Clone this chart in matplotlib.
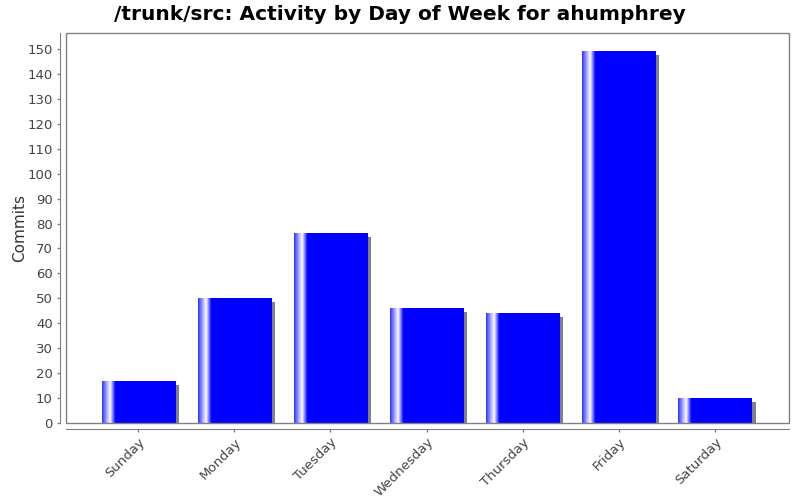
import numpy as np
import matplotlib.pyplot as plt
from matplotlib.patches import Rectangle
from matplotlib.colors import LinearSegmentedColormap
import matplotlib.transforms as mtransforms

# Data
days = ["Sunday", "Monday", "Tuesday", "Wednesday", "Thursday", "Friday", "Saturday"]
commits = [17, 50, 76, 46, 44, 149, 10]

fig = plt.figure(figsize=(8, 5), dpi=100)
ax = fig.add_axes([0.0825, 0.154, 0.90375, 0.78])

x = np.arange(len(days))
width = 0.76

# shadow bars, shifted 4px right and 4px down
shadow_off = mtransforms.ScaledTranslation(4 / 100, -4 / 100, fig.dpi_scale_trans)
ax.bar(x, commits, width=width, color="#808080", linewidth=0,
       transform=ax.transData + shadow_off, zorder=1)

bars = ax.bar(x, commits, width=width, color="none", linewidth=0, zorder=2)

# gradient fill for each bar (blue -> white -> blue near left edge)
cmap = LinearSegmentedColormap.from_list(
    "jfree", [(0.0, "#3030ff"), (0.05, "#9090ff"), (0.11, "#ffffff"),
              (0.18, "#0000ff"), (1.0, "#0000ff")])
grad = np.linspace(0, 1, 256).reshape(1, -1)
for b in bars:
    x0, y0 = b.get_x(), b.get_y()
    w, h = b.get_width(), b.get_height()
    im = ax.imshow(grad, cmap=cmap, aspect="auto", extent=(x0, x0 + w, y0, y0 + h),
                   interpolation="bilinear", zorder=2)
    im.set_clip_path(b)

ax.set_xlim(-0.75, len(days) - 1 + 0.77)
ax.set_ylim(0, 156.4)

ax.set_yticks(range(0, 151, 10))
ax.set_xticks(x)
ax.set_xticklabels(days)

# axis lines detached from the plot outline
for side in ["top", "right"]:
    ax.spines[side].set_visible(False)
for side in ["left", "bottom"]:
    ax.spines[side].set_position(("outward", 4))
    ax.spines[side].set_color("#808080")
ax.add_patch(Rectangle((0, 0), 1, 1, transform=ax.transAxes, fill=False,
                       edgecolor="#808080", linewidth=1, clip_on=False, zorder=5))

ax.tick_params(axis="both", colors="#808080", labelcolor="#444444",
               labelsize=9.5, length=2, width=1)
ax.tick_params(axis="x", labelrotation=45, pad=3)
for lbl in ax.get_xticklabels():
    lbl.set_ha("right")
    lbl.set_rotation_mode("anchor")

ax.set_ylabel("Commits", fontsize=11, color="#333333")
ax.yaxis.set_label_coords(-0.054, 0.5)

fig.suptitle("/trunk/src: Activity by Day of Week for ahumphrey",
             fontsize=14.5, fontweight="bold", y=0.99)

fig.savefig("out.png", dpi=100)
